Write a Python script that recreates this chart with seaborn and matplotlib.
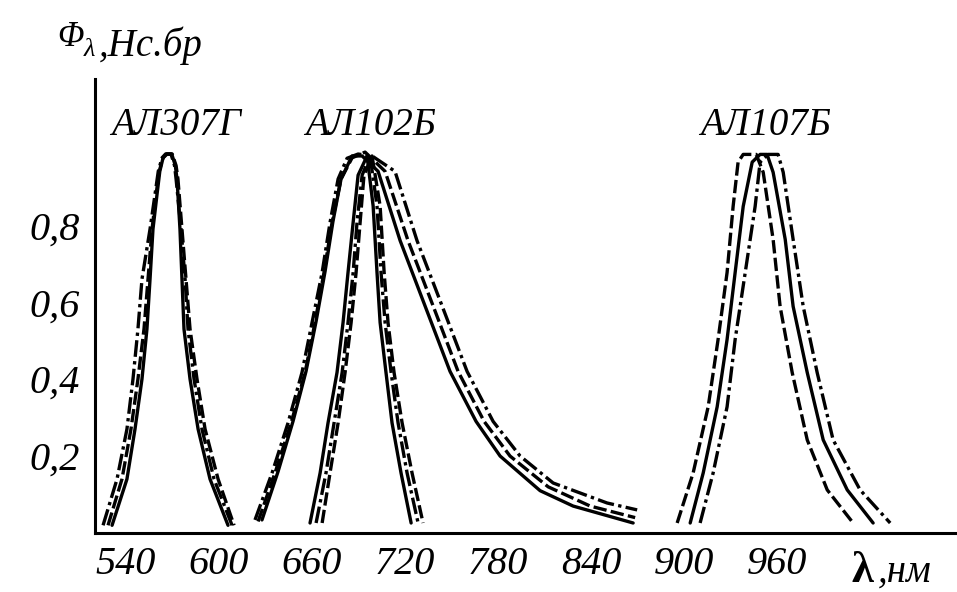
import matplotlib
matplotlib.use("Agg")
import matplotlib.pyplot as plt
import pandas as pd
import seaborn as sns

# --- АЛ307Г (wavelength, nm / relative flux) ---
al307_phi = [0.02, 0.14, 0.27, 0.40, 0.53, 0.66, 0.79, 0.88, 0.94, 0.975, 0.985,
             0.985, 0.955, 0.92, 0.79, 0.66, 0.53, 0.40, 0.27, 0.14, 0.02]
al307_solid_wl = [531.0, 540.6, 545.8, 550.3, 553.5, 555.5, 557.4, 560.0, 561.8, 563.9, 566.0,
                  569.5, 571.8, 572.9, 574.8, 576.1, 577.4, 581.3, 586.5, 594.2, 605.8]
al307_dash_wl = [528.4, 537.4, 543.2, 547.7, 551.6, 554.2, 556.8, 559.4, 561.4, 563.9, 566.5,
                 569.8, 572.3, 573.5, 576.1, 578.7, 581.3, 585.8, 591.0, 599.4, 609.7]
al307_dashdot_wl = [525.2, 534.2, 540.6, 544.5, 547.7, 550.3, 555.5, 558.7, 560.8, 563.2, 565.5,
                    569.0, 571.3, 572.3, 575.5, 578.1, 580.0, 583.9, 589.0, 596.8, 608.4]

# --- АЛ102Б, wide curves ---
al102w_solid_wl = [627.7, 638.1, 647.7, 656.1, 662.6, 668.4, 673.5, 678.7, 685.8, 692.3,
                   702.6, 716.8, 732.9, 749.0, 765.8, 781.3, 807.1, 828.4, 867.1]
al102w_solid_phi = [0.034, 0.16, 0.29, 0.42, 0.55, 0.68, 0.81, 0.92, 0.98, 0.98,
                    0.94, 0.76, 0.59, 0.42, 0.29, 0.20, 0.11, 0.07, 0.026]
al102w_dash_wl = [625.2, 636.1, 646.5, 655.5, 661.9, 667.7, 672.9, 678.7, 685.8, 694.2,
                  707.1, 721.9, 738.1, 754.2, 771.0, 787.7, 812.3, 839.4, 868.4]
al102w_dash_phi = [0.03, 0.156, 0.286, 0.417, 0.547, 0.677, 0.807, 0.92, 0.975, 0.99,
                   0.94, 0.76, 0.59, 0.42, 0.29, 0.20, 0.12, 0.07, 0.04]
al102w_dashdot_wl = [623.2, 634.2, 644.5, 653.5, 660.0, 666.5, 671.6, 676.8, 682.6, 689.7,
                     698.7, 713.5, 727.7, 743.9, 760.0, 776.8, 794.2, 815.5, 850.3, 869.7]
al102w_dashdot_phi = [0.034, 0.156, 0.286, 0.417, 0.547, 0.677, 0.807, 0.92, 0.974, 0.985,
                      0.98, 0.94, 0.76, 0.59, 0.42, 0.29, 0.20, 0.13, 0.078, 0.060]

# --- АЛ102Б, narrow curves ---
al102n_solid_wl = [658.7, 665.2, 670.3, 676.1, 680.0, 683.2, 686.5, 689.7, 695.5,
                   699.4, 701.9, 703.9, 707.7, 711.6, 717.4, 723.9]
al102n_phi = [0.026, 0.156, 0.286, 0.417, 0.547, 0.677, 0.807, 0.93, 0.98,
              0.85, 0.677, 0.547, 0.417, 0.286, 0.156, 0.026]
al102n_dash_wl = [666.5, 671.6, 676.8, 681.3, 685.2, 688.4, 691.0, 693.5, 698.7,
                  703.9, 706.5, 709.0, 712.9, 718.1, 724.5, 731.6]
al102n_dashdot_wl = [662.6, 669.0, 674.2, 679.4, 683.2, 686.5, 689.0, 692.3, 697.4,
                     701.9, 704.5, 707.1, 711.0, 715.5, 721.3, 728.4]

# --- АЛ107Б ---
al107_dash_wl = [895.5, 905.8, 915.5, 921.9, 927.7, 931.6, 934.8, 938.1, 946.5,
                 951.0, 957.4, 961.9, 969.7, 979.4, 992.3, 1009.0]
al107_phi = [0.026, 0.156, 0.328, 0.503, 0.677, 0.849, 0.964, 0.984, 0.984,
             0.9375, 0.763, 0.589, 0.417, 0.242, 0.112, 0.026]
al107_solid_wl = [903.9, 912.3, 921.3, 927.7, 932.9, 938.1, 943.9, 949.0, 953.5,
                  957.4, 965.2, 970.3, 979.4, 989.7, 1005.2, 1021.9]
al107_dashdot_wl = [910.3, 918.7, 927.7, 932.9, 939.4, 945.8, 949.0, 954.2, 960.6,
                    963.9, 970.3, 976.8, 985.8, 996.1, 1013.5, 1032.9]

x_ticks = [540, 600, 660, 720, 780, 840, 900, 960]
x_ticks_drawn = [540, 600, 840, 960]
y_ticks = [0.1, 0.2, 0.3, 0.4, 0.5, 0.6, 0.7, 0.8, 0.9]
y_labels = ["", "0,2", "", "0,4", "", "0,6", "", "0,8", ""]

curve_names = ["АЛ307Г", "АЛ102Б", "АЛ107Б"]
name_pos_wl = [572.5, 697.4, 952.3]

curves = [
    ("307_s", "solid", al307_solid_wl, al307_phi),
    ("307_d", "dashed", al307_dash_wl, al307_phi),
    ("307_dd", "dashdot", al307_dashdot_wl, al307_phi),
    ("102w_s", "solid", al102w_solid_wl, al102w_solid_phi),
    ("102w_d", "dashed", al102w_dash_wl, al102w_dash_phi),
    ("102w_dd", "dashdot", al102w_dashdot_wl, al102w_dashdot_phi),
    ("102n_s", "solid", al102n_solid_wl, al102n_phi),
    ("102n_d", "dashed", al102n_dash_wl, al102n_phi),
    ("102n_dd", "dashdot", al102n_dashdot_wl, al102n_phi),
    ("107_d", "dashed", al107_dash_wl, al107_phi),
    ("107_s", "solid", al107_solid_wl, al107_phi),
    ("107_dd", "dashdot", al107_dashdot_wl, al107_phi),
]

rows = []
for cid, kind, wl, phi in curves:
    for w, p in zip(wl, phi):
        rows.append({"curve": cid, "kind": kind, "wl": w, "phi": p})
df = pd.DataFrame(rows)

sns.set_style("white")
plt.rcParams["font.family"] = ["Liberation Serif", "DejaVu Serif"]
plt.rcParams["font.style"] = "italic"
plt.rcParams["text.color"] = "black"
plt.rcParams["xtick.color"] = "black"
plt.rcParams["ytick.color"] = "black"

W, H = 957, 592
fig = plt.figure(figsize=(W / 100, H / 100), dpi=100)
ax = fig.add_axes([95 / W, 59 / H, 862 / W, 454 / H])

sns.lineplot(
    data=df, x="wl", y="phi",
    hue="curve", palette={c[0]: "black" for c in curves},
    style="kind", dashes={"solid": "", "dashed": (4, 1.3), "dashdot": (5, 1.3, 1, 1.3)},
    sort=False, estimator=None, legend=False, linewidth=2.4, ax=ax,
    solid_joinstyle="round", dash_joinstyle="round",
)

ax.set_xlim(520, 1076)
ax.set_ylim(0, 1.18)
for side in ["top", "right"]:
    ax.spines[side].set_visible(False)
for side in ["left", "bottom"]:
    ax.spines[side].set_linewidth(2.2)
    ax.spines[side].set_color("black")

ax.set_xticks(x_ticks)
ax.set_xticklabels([str(v) for v in x_ticks])
ax.set_yticks(y_ticks)
ax.set_yticklabels(y_labels)
ax.tick_params(axis="x", direction="in", length=16, width=1.5, pad=9, labelsize=29)
ax.tick_params(axis="y", direction="in", length=14, width=2.2, pad=11, labelsize=29)
for v, t in zip(x_ticks, ax.xaxis.get_major_ticks()):
    if v not in x_ticks_drawn:
        t.tick1line.set_visible(False)
ax.set_xlabel("")
ax.set_ylabel("")

for name, wl in zip(curve_names, name_pos_wl):
    ax.text(wl, 1.06, name, ha="center", va="center", fontsize=28)

# axis titles
fig.text(57 / W, 1 - 46 / H, "Φ", fontsize=25, ha="left", va="baseline")
fig.text(84 / W, 1 - 56 / H, "λ", fontsize=19, ha="left", va="baseline")
fig.text(99 / W, 1 - 56 / H, ",Нс.бр", fontsize=28, ha="left", va="baseline")
fig.text(852 / W, 1 - 582 / H, "λ", fontsize=32, ha="left", va="baseline",
         fontweight="bold", style="normal")
fig.text(878 / W, 1 - 582 / H, ",нм", fontsize=28, ha="left", va="baseline")

fig.savefig("out.png", dpi=100)
